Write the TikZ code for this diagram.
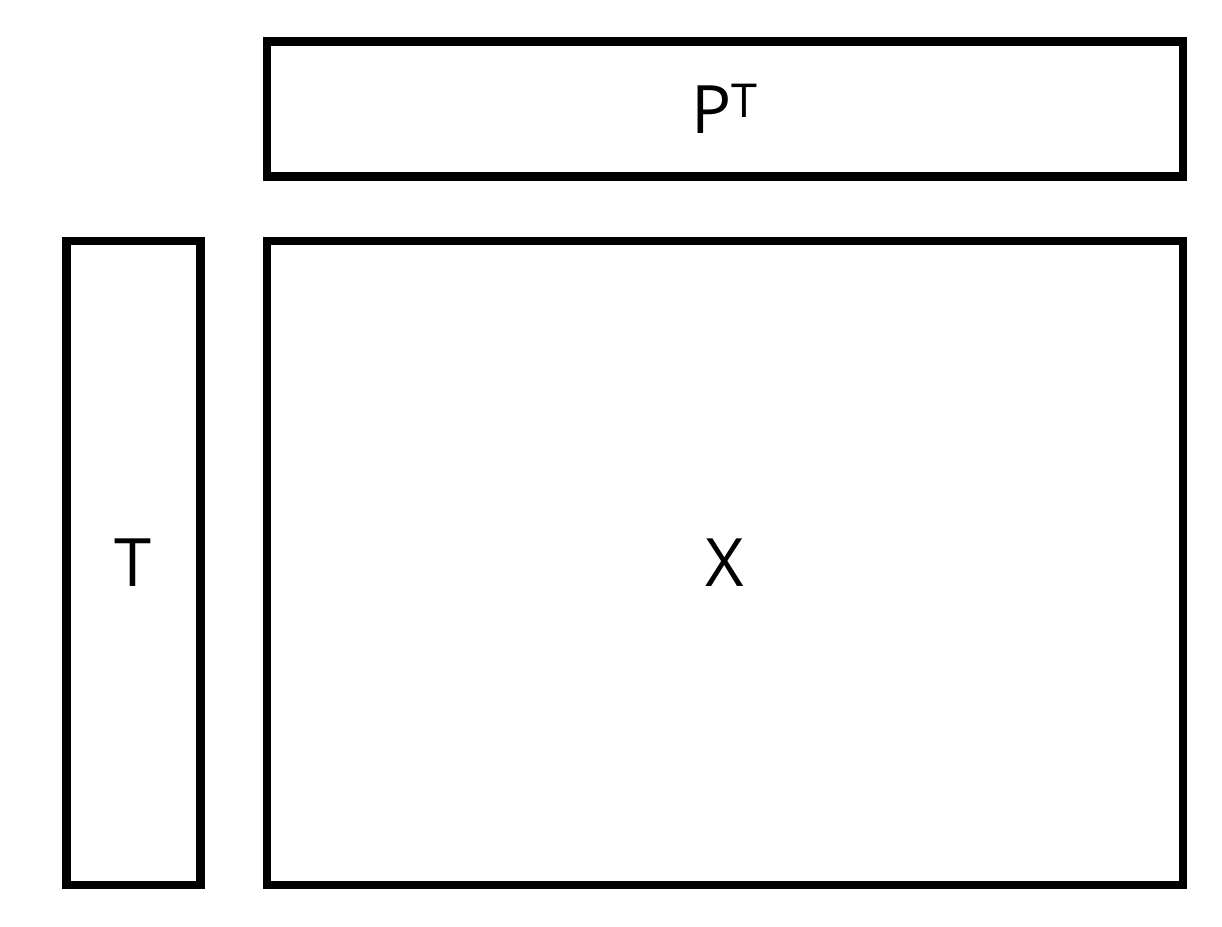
\documentclass[tikz,border=0pt]{standalone}
\usepackage{fontspec}
\setmainfont{Open Sans}
\usetikzlibrary{positioning}

\begin{document}
\begin{tikzpicture}[
    every node/.style={font=\fontsize{38}{46}\selectfont},
    block/.style={draw=black, line width=5.1pt, rectangle, inner sep=0pt}
]

   % page frame
   \useasboundingbox (0,0) rectangle (24.44,-18.52);

   % Matrix boxes
   \node[block, minimum width=18.32cm, minimum height=12.88cm] (x) at (14.50,-11.26) {X};
   \node[block, minimum width=2.68cm, minimum height=12.88cm] (t) [left=1.16cm of x] {T};
   \node[block, minimum width=18.32cm, minimum height=2.70cm] (p) [above=1.12cm of x] {P\textsuperscript{T}};

\end{tikzpicture}
\end{document}
